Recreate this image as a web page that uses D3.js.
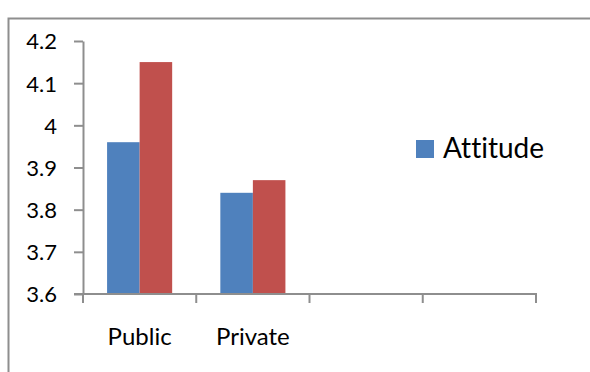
<!DOCTYPE html>
<html>
<head>
<meta charset="utf-8">
<script src="https://cdn.jsdelivr.net/npm/d3@7"></script>
<style>
  html, body { margin: 0; padding: 0; background: #fff; }
  svg { display: block; }
  text { font-family: Lato, "Open Sans", sans-serif; fill: #000; font-variant-ligatures: none; font-feature-settings: "liga" 0; }
</style>
</head>
<body>
<svg id="chart" width="590" height="372"></svg>
<script>
// ---- data ----
const categories = ["Public", "Private", "", ""];
const seriesNames = ["Attitude", "Series2"];
const seriesBlue = [3.96, 3.84, null, null];
const seriesRed = [4.15, 3.87, null, null];
const yTicks = [3.6, 3.7, 3.8, 3.9, 4.0, 4.1, 4.2];
const yTickLabels = ["3.6", "3.7", "3.8", "3.9", "4", "4.1", "4.2"];
const legendNames = ["Attitude"];
const colors = ["#4F81BD", "#C0504D"];

// ---- layout ----
const svg = d3.select("#chart");
const axisColor = "#8e8e8e";
const plot = { left: 83, right: 536, top: 41, bottom: 294 };

// chart border (top + left visible)
svg.append("path")
  .attr("d", "M8.5,372 L8.5,18.5 L590,18.5")
  .attr("fill", "none")
  .attr("stroke", axisColor)
  .attr("stroke-width", 2);

const y = d3.scaleLinear().domain([3.6, 4.2]).range([plot.bottom, plot.top]);
const x0 = d3.scaleBand().domain(d3.range(categories.length))
  .range([plot.left, plot.right]).paddingInner(0).paddingOuter(0);
const x1 = d3.scaleBand().domain(d3.range(seriesNames.length))
  .range([0, x0.bandwidth()]).paddingInner(0).paddingOuter(0.74);

// bars
const allSeries = [seriesBlue, seriesRed];
allSeries.forEach((vals, si) => {
  svg.append("g").selectAll("rect")
    .data(vals.map((v, i) => ({ v, i })).filter(d => d.v != null))
    .join("rect")
    .attr("x", d => x0(d.i) + x1(si))
    .attr("width", x1.bandwidth())
    .attr("y", d => y(d.v))
    .attr("height", d => y(3.6) - y(d.v))
    .attr("fill", colors[si]);
});

// y axis
const yAxis = d3.axisLeft(y)
  .tickValues(yTicks)
  .tickFormat((d, i) => yTickLabels[i])
  .tickSizeInner(9).tickSizeOuter(0).tickPadding(17);
const gy = svg.append("g").attr("transform", `translate(${plot.left},0)`).call(yAxis);
gy.select(".domain").attr("stroke", axisColor).attr("stroke-width", 2);
gy.selectAll(".tick line").attr("stroke", axisColor).attr("stroke-width", 2);
gy.selectAll(".tick text")
  .attr("font-family", "Lato, sans-serif")
  .attr("font-size", 22)
  .attr("fill", "#000")
  .attr("dy", "0.36em");

// x axis line
svg.append("line")
  .attr("x1", plot.left - 9).attr("x2", plot.right + 1)
  .attr("y1", plot.bottom).attr("y2", plot.bottom)
  .attr("stroke", axisColor).attr("stroke-width", 2);

// x tick marks at category boundaries
const boundaries = d3.range(categories.length).map(i => x0(i)).concat([plot.right]);
svg.append("g").selectAll("line")
  .data(boundaries)
  .join("line")
  .attr("x1", d => d).attr("x2", d => d)
  .attr("y1", plot.bottom).attr("y2", plot.bottom + 9)
  .attr("stroke", axisColor).attr("stroke-width", 2);

// category labels
svg.append("g").selectAll("text")
  .data(categories)
  .join("text")
  .attr("x", (d, i) => x0(i) + x0.bandwidth() / 2)
  .attr("y", 345)
  .attr("text-anchor", "middle")
  .attr("font-size", 24)
  .text(d => d);

// legend
const lg = svg.append("g");
legendNames.forEach((name, i) => {
  lg.append("rect")
    .attr("x", 416).attr("y", 140 + i * 30)
    .attr("width", 18).attr("height", 18)
    .attr("fill", colors[i]);
  lg.append("text")
    .attr("x", 443).attr("y", 158 + i * 30)
    .attr("font-size", 28)
    .text(name);
});
</script>
</body>
</html>
